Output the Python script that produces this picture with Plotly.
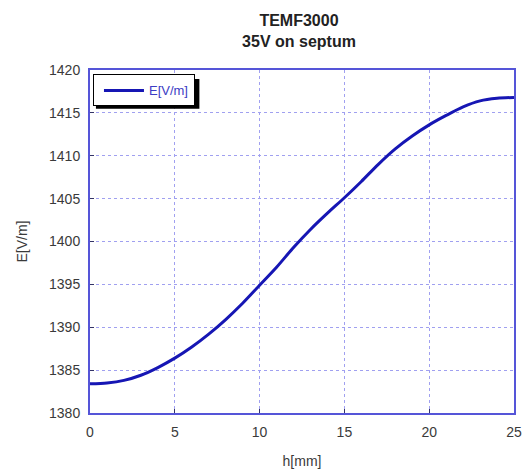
import plotly.graph_objects as go

h_mm = [0, 1, 2, 3, 4, 5, 6, 7, 8, 9, 10, 11, 12, 13, 14, 15, 16, 17, 18, 19, 20, 21, 22, 23, 24, 25]
e_vm = [1383.4, 1383.5, 1383.8, 1384.4, 1385.3, 1386.4, 1387.7, 1389.2, 1390.9, 1392.8,
        1394.9, 1397.0, 1399.3, 1401.4, 1403.3, 1405.1, 1407.0, 1409.0, 1410.8, 1412.3,
        1413.6, 1414.7, 1415.7, 1416.4, 1416.7, 1416.8]
x_ticks = [0, 5, 10, 15, 20, 25]
y_ticks = [1380, 1385, 1390, 1395, 1400, 1405, 1410, 1415, 1420]
series_name = "E[V/m]"
title_lines = ["TEMF3000", "35V on septum"]

FONT = "Liberation Sans, Arial, sans-serif"

fig = go.Figure()
fig.add_trace(go.Scatter(
    x=h_mm, y=e_vm, mode="lines", name=series_name,
    line=dict(color="#1616b4", width=3, shape="spline", smoothing=0.8),
))

axis_common = dict(
    showgrid=True, gridcolor="#a0a0f0", griddash="dot", gridwidth=1,
    showline=True, mirror=True, linecolor="#5555d8", linewidth=2,
    ticks="inside", ticklen=4, tickcolor="#333366",
    zeroline=False, ticklabelstandoff=5, automargin=False,
    tickfont=dict(family=FONT, size=14, color="#3a3a3a"),
)

# legend drop shadow (decoration only)
fig.add_shape(type="rect", xref="paper", yref="paper",
              x0=0.014, x1=0.258, y0=0.887, y1=0.974,
              fillcolor="black", line=dict(width=0), layer="above")

fig.update_layout(
    width=524, height=467,
    margin=dict(l=82, r=18, t=62, b=62),
    paper_bgcolor="white", plot_bgcolor="white",
    font=dict(family=FONT, size=14, color="#3a3a3a"),
    title=dict(
        text="<b>" + "<br>".join(title_lines) + "</b>",
        x=291 / 524, xref="container", xanchor="center",
        y=0.962, yref="container", yanchor="top",
        font=dict(size=16, color="#222222"),
    ),
    xaxis=dict(range=[0, 25], tickvals=x_ticks,
               title=dict(text="h[mm]", standoff=17, font=dict(size=14, color="#3a3a3a")),
               **axis_common),
    yaxis=dict(range=[1380, 1420], tickvals=y_ticks,
               title=dict(text="E[V/m]", standoff=18, font=dict(size=14, color="#3a3a3a")),
               **axis_common),
    showlegend=True,
    legend=dict(
        x=0.007, y=0.987, xanchor="left", yanchor="top",
        bgcolor="white", bordercolor="black", borderwidth=1,
        font=dict(family=FONT, size=13, color="#3c3cc4"),
        itemwidth=40, indentation=5,
    ),
)

fig.write_html("out.html")
